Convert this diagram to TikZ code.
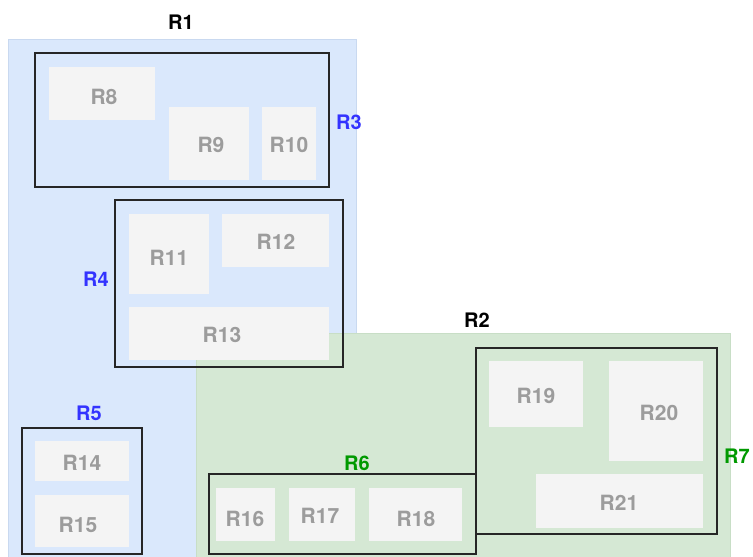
\documentclass[tikz,border=0pt]{standalone}
\usepackage{fontspec}
\setmainfont{TeX Gyre Heros}
\begin{document}
\begin{tikzpicture}[x=1pt,y=-1pt,
  every node/.style={inner sep=0pt,outer sep=0pt},
  region/.style={anchor=north west,line width=0.8pt},
  bluereg/.style={region,fill=blueF,draw=blueD},
  greenreg/.style={region,fill=greenF,draw=greenD},
  grp/.style={anchor=north west,draw=black!85,line width=1.1pt},
  cell/.style={anchor=north west,fill=cellF},
  lbl/.style={font=\fontsize{20}{24}\selectfont\bfseries},
  celltxt/.style={font=\fontsize{21}{25}\selectfont\bfseries,text=cellT},
  bluetxt/.style={lbl,text=labB},
  greentxt/.style={lbl,text=labG},
  blacktxt/.style={lbl,text=black}]
\definecolor{blueF}{HTML}{DAE8FC}
\definecolor{blueD}{HTML}{C9D9F0}
\definecolor{greenF}{HTML}{D5E8D4}
\definecolor{greenD}{HTML}{C8DEC6}
\definecolor{cellF}{HTML}{F4F4F4}
\definecolor{cellT}{HTML}{9C9C9C}
\definecolor{labB}{HTML}{3333FF}
\definecolor{labG}{HTML}{009900}
\useasboundingbox (0,0) rectangle (753,557);
% large regions
\node[bluereg,minimum width=348pt,minimum height=521pt] (r1) at (8,39) {};
\node[greenreg,minimum width=534pt,minimum height=227pt] (r2) at (196,333) {};
% groups
\node[grp,minimum width=294pt,minimum height=134pt] (r3) at (35,53) {};
\node[grp,minimum width=228pt,minimum height=167pt] (r4) at (115,200) {};
\node[grp,minimum width=120pt,minimum height=126pt] (r5) at (22,428) {};
\node[grp,minimum width=267pt,minimum height=80pt] (r6) at (209,474) {};
\node[grp,minimum width=241pt,minimum height=186pt] (r7) at (476,348) {};
% cells
\node[cell,minimum width=106pt,minimum height=53pt] (r8) at (49,67) {};
\node[cell,minimum width=80pt,minimum height=73pt] (r9) at (169,107) {};
\node[cell,minimum width=54pt,minimum height=73pt] (r10) at (262,107) {};
\node[cell,minimum width=80pt,minimum height=80pt] (r11) at (129,214) {};
\node[cell,minimum width=107pt,minimum height=53pt] (r12) at (222,214) {};
\node[cell,minimum width=200pt,minimum height=53pt] (r13) at (129,307) {};
\node[cell,minimum width=94pt,minimum height=40pt] (r14) at (35,441) {};
\node[cell,minimum width=94pt,minimum height=52pt] (r15) at (35,495) {};
\node[cell,minimum width=59pt,minimum height=53pt] (r16) at (216,488) {};
\node[cell,minimum width=66pt,minimum height=53pt] (r17) at (289,488) {};
\node[cell,minimum width=93pt,minimum height=53pt] (r18) at (369,488) {};
\node[cell,minimum width=94pt,minimum height=66pt] (r19) at (489,361) {};
\node[cell,minimum width=94pt,minimum height=100pt] (r20) at (609,361) {};
\node[cell,minimum width=167pt,minimum height=54pt] (r21) at (536,474) {};
% cell texts
\node[celltxt] (t8) at (104,97) {R8};
\node[celltxt] (t9) at (211,145) {R9};
\node[celltxt] (t10) at (289,145) {R10};
\node[celltxt] (t11) at (169,258) {R11};
\node[celltxt] (t12) at (276,242) {R12};
\node[celltxt] (t13) at (222,335) {R13};
\node[celltxt] (t14) at (82,463) {R14};
\node[celltxt] (t15) at (78,525) {R15};
\node[celltxt] (t16) at (245,519) {R16};
\node[celltxt] (t17) at (320,516) {R17};
\node[celltxt] (t18) at (416,519) {R18};
\node[celltxt] (t19) at (536,396) {R19};
\node[celltxt] (t20) at (659,413) {R20};
\node[celltxt] (t21) at (619,503) {R21};
% region / group labels
\node[blacktxt] (l1) at (181,22) {R1};
\node[blacktxt] (l2) at (477,320) {R2};
\node[bluetxt] (l3) at (349,122) {R3};
\node[bluetxt] (l4) at (96,279) {R4};
\node[bluetxt] (l5) at (89,413) {R5};
\node[greentxt] (l6) at (357,463) {R6};
\node[greentxt] (l7) at (737,456) {R7};
\end{tikzpicture}
\end{document}
